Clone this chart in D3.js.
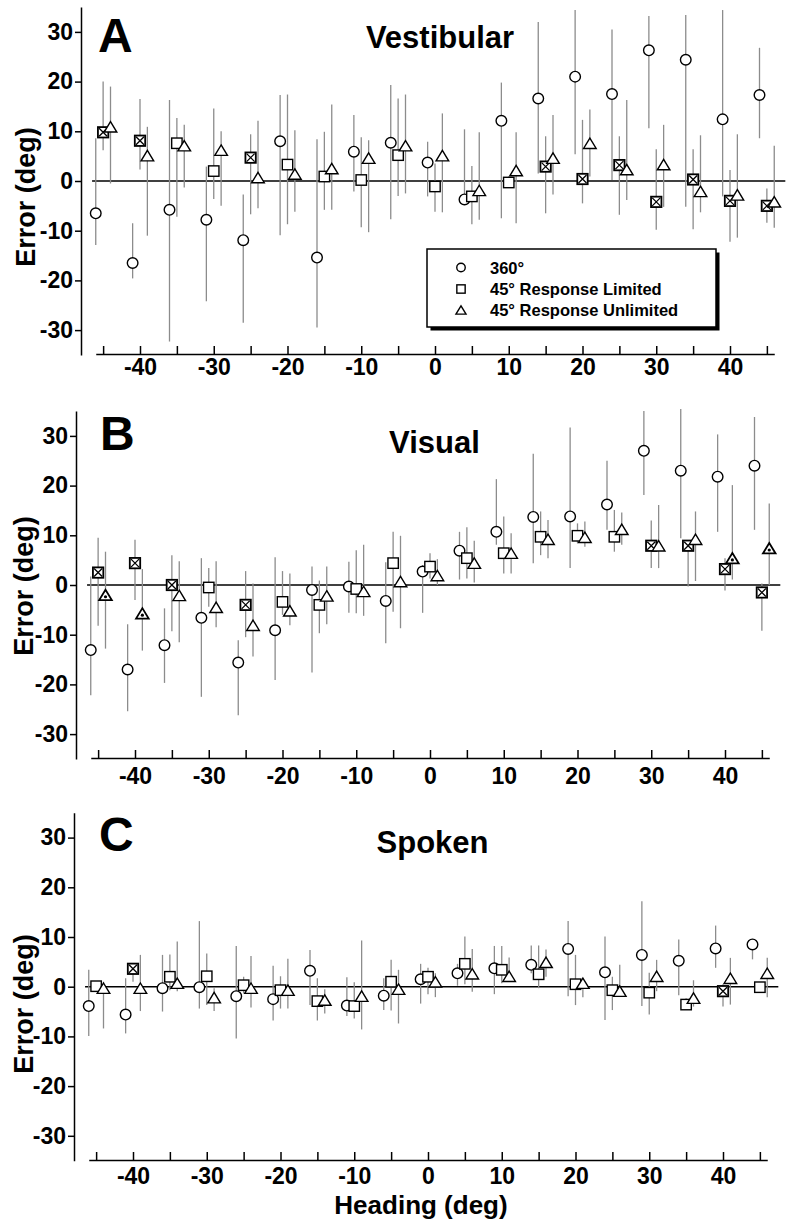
<!DOCTYPE html>
<html><head><meta charset="utf-8">
<script src="https://cdn.jsdelivr.net/npm/d3@7"></script>
<style>
body{margin:0;background:#fff}
text{font-family:"Liberation Sans",Arial,sans-serif;font-weight:bold;fill:#000}
</style>
</head><body>
<svg id="chart" width="793" height="1224"></svg>
<script>
// ---------- data ----------
const headings = [-45,-40,-35,-30,-25,-20,-15,-10,-5,0,5,10,15,20,25,30,35,40,45];
const xTickValues = [-45,-40,-35,-30,-25,-20,-15,-10,-5,0,5,10,15,20,25,30,35,40,45];
const xTickLabels = [-40,-30,-20,-10,0,10,20,30,40];
const yTickValues = [-30,-20,-10,0,10,20,30];
const seriesNames = ["360°","45° Response Limited","45° Response Unlimited"];
const panelTitles = ["Vestibular","Visual","Spoken"];
const panelLetters = ["A","B","C"];
const xAxisTitle = "Heading (deg)";
const yAxisTitle = "Error (deg)";

// each entry: [mean, low, high] per heading
const vestCircle = [[-6.5,-12.9,8.6],[-16.5,-19.6,-8.5],[-5.8,-32.3,16.3],[-7.8,-24.2,2.9],[-11.9,-28.5,-2.7],[8.0,-10.9,17.3],[-15.4,-29.5,8.4],[5.9,-2.1,13.3],[7.7,-7.7,19.3],[3.7,-3.1,7.9],[-3.7,-4.5,10.4],[12.1,-7.5,19.8],[16.6,1.5,32],[21,5.4,34.4],[17.5,0.2,30.5],[26.3,10.6,33.2],[24.4,-5.2,33.4],[12.4,-3.1,34.4],[17.3,8.6,26.8]];
const vestSquare = [[9.8,6.2,20],[8.1,2.3,16.5],[7.6,-7.2,12.7],[2.0,-3.6,14.6],[4.7,-6.7,9.4],[3.3,-8.7,17.4],[0.9,-5.8,9.9],[0.2,-9.3,8.8],[5.2,-3,16.6],[-1.1,-6.2,3.5],[-3.1,-8.7,3],[-0.3,-1.1,0.9],[2.9,-6.5,9],[0.4,-4.5,12.3],[3.2,-6.8,9],[-4.2,-9.8,6.4],[0.3,-9.7,6.4],[-4,-12.2,2.2],[-5,-8.4,-1.5]];
const vestTriangle = [[10.9,-0.5,19],[5.1,-11,10.9],[7.1,-1.3,11.3],[6.2,-5,10],[0.7,-5.5,12.1],[1.4,-6.2,10.2],[2.5,-5.8,15.4],[4.6,-10.3,8.2],[7.1,-2.5,17.4],[5.1,-6.3,13.6],[-1.9,-7.8,9.8],[2.1,-8.5,9.8],[4.6,-2.7,13.3],[7.6,0.9,14.4],[2.3,-3.8,16.3],[3.3,-5.2,11.3],[-2.1,-6.3,9.2],[-2.8,-11.4,9.4],[-4.2,-9.4,7.1]];
const vestCrossed = [-45,-40,-25,15,20,25,30,35,40,45];
const vestDotted = [];

const visCircle = [[-13.1,-22.2,1.7],[-17,-25.4,-7.9],[-12.1,-19.7,-4.7],[-6.6,-22.5,5.4],[-15.6,-26.2,-11.1],[-9.1,-19.1,5.6],[-1.0,-17.6,3.7],[-0.3,-5.6,4.7],[-3.2,-11.7,4.6],[2.7,-5.6,4],[6.9,1.1,10.7],[10.7,8.1,21.3],[13.7,4.4,26.4],[13.8,3.4,31.7],[16.2,11.1,25],[27,18.1,35],[23,9.4,35.4],[21.8,10.7,30.3],[24,11.1,33.8]];
const visSquare = [[2.5,-8.2,9.5],[4.4,-3,9.1],[0,-9.3,6.0],[-0.5,-4.4,3.4],[-4.0,-10.5,2.8],[-3.4,-6,2.8],[-4.0,-9.7,0.9],[-0.8,-5.7,7.0],[4.4,-5.4,10.7],[3.7,1.3,6.4],[5.4,1.3,11.6],[6.4,2.3,13.8],[9.7,6.0,14.8],[9.9,8.4,12.4],[9.7,6.7,15.1],[7.9,3.4,13],[7.9,-0.3,8.7],[3.2,-1.1,5.4],[-1.5,-9.2,0.3]];
const visTriangle = [[-2.0,-12.8,6.7],[-5.7,-13.2,3.2],[-2.1,-11.5,4.8],[-4.5,-8.5,4.8],[-8.1,-14.4,0.3],[-5.2,-8.1,2.3],[-2.2,-7.9,3.7],[-1.3,-6.2,8.1],[0.7,-8.7,9.9],[1.9,0,5.2],[4.4,0.5,8.9],[6.4,2.3,10.4],[9.2,5.4,13.1],[9.6,7.7,12.8],[11.2,8.1,14.6],[7.9,3.4,16.1],[9.2,0.8,14.8],[5.4,1.1,20.1],[7.4,0,16.4]];
const visCrossed = [-45,-40,-35,-25,30,35,40,45];
const visDotted = [-45,-40,40,45];

const spokCircle = [[-3.9,-9.9,3.4],[-5.6,-9.4,1.7],[-0.3,-5.0,6.4],[-0.1,-4.4,13.2],[-1.9,-10.4,8.2],[-2.5,-6.8,4.2],[3.2,-3.7,7.4],[-3.8,-5.9,1.9],[-1.8,-4.7,1.7],[1.5,-3.4,4.6],[2.7,0.2,4.6],[3.7,-1.5,8.2],[4.4,2.7,8.3],[7.6,-1.9,13.2],[2.9,-6.7,10.1],[6.4,-3.9,17.2],[5.2,-1.7,9.5],[7.7,3.8,12.3],[8.5,5.5,9.1]];
const spokSquare = [[0.1,-0.5,0.5],[3.6,1.0,4.7],[2.0,-0.7,6.5],[2.1,-3.7,6.7],[0.3,-1.3,2.0],[-0.7,-4.4,2.1],[-2.9,-6.8,1.7],[-3.9,-6.4,0.9],[1.0,-4.8,5.4],[2.0,-1.5,3.8],[4.6,0.5,10.1],[3.4,0.7,8.2],[2.5,-0.3,8.3],[0.5,-3.7,6.4],[-0.7,-4.7,2.0],[-1.2,-5.6,2.8],[-3.6,-4.4,-2.3],[-0.9,-4.0,0.5],[-0.1,-0.6,0.4]];
const spokTriangle = [[-0.3,-8.4,1.0],[-0.3,-4.9,6.4],[0.7,-0.9,9.1],[-2.2,-4.9,-0.3],[-0.3,-4.2,6.2],[-0.7,-4.4,5.6],[-2.7,-5.4,-0.5],[-1.9,-8.6,9.3],[-0.5,-7.4,3.4],[1.0,-2.1,2.7],[2.6,-1.0,7.6],[2.1,1.0,5.9],[4.9,2.0,7.5],[0.7,-2.1,1.7],[-0.9,-2.0,4.4],[2.1,-0.9,5.4],[-2.3,-4.0,1.3],[1.7,-3.6,5.8],[2.7,-2.1,5.8]];
const spokCrossed = [-40,40];
const spokDotted = [];

// ---------- layout ----------
const svg = d3.select("#chart");
const pxPerX = 7.375, pxPerY = 4.97;
const panels = [
  {x0:435, y0:181,   axY:354,  tickPad:4.5, titleY:48,  titleX:440,   letterX:98,  letterY:52,  ylabX:35, ylabY:197,
   data:[vestCircle,vestSquare,vestTriangle], crossed:vestCrossed, dotted:vestDotted, legend:true},
  {x0:430, y0:585,   axY:758,  tickPad:10,  titleY:453, titleX:434.5, letterX:100, letterY:450, ylabX:33, ylabY:586,
   data:[visCircle,visSquare,visTriangle], crossed:visCrossed, dotted:visDotted},
  {x0:428, y0:986.7, axY:1160, tickPad:8,   titleY:853, titleX:432.5, letterX:99,  letterY:851, ylabX:33, ylabY:1004,
   data:[spokCircle,spokSquare,spokTriangle], crossed:spokCrossed, dotted:spokDotted, xlabel:true}
];
const offsets = [-1, 0, 1];
const barColor = "#8c8c8c";

function drawMarker(g, type, cx, cy, opts) {
  const s = opts.size || 1;
  if (type === 0) {
    g.append("circle").attr("cx", cx).attr("cy", cy).attr("r", 5.3*s)
      .attr("fill", "#fff").attr("stroke", "#000").attr("stroke-width", 1.4);
  } else if (type === 1) {
    const h = 5.2*s;
    g.append("rect").attr("x", cx-h).attr("y", cy-h).attr("width", 2*h).attr("height", 2*h)
      .attr("fill", "#fff").attr("stroke", "#000").attr("stroke-width", opts.crossed ? 1.8 : 1.4);
    if (opts.crossed) {
      const k = h - 1.2;
      g.append("path").attr("d", `M${cx-k},${cy-k}L${cx+k},${cy+k}M${cx+k},${cy-k}L${cx-k},${cy+k}`)
        .attr("stroke", "#000").attr("stroke-width", 1.3).attr("fill", "none");
    }
  } else {
    const w = 6.3*s, hh = 5.2*s;
    g.append("path").attr("d", `M${cx},${cy-hh}L${cx+w},${cy+hh}L${cx-w},${cy+hh}Z`)
      .attr("fill", "#fff").attr("stroke", "#000").attr("stroke-width", opts.dotted ? 1.8 : 1.4)
      .attr("stroke-linejoin", "miter");
    if (opts.dotted) {
      g.append("circle").attr("cx", cx).attr("cy", cy+1.8).attr("r", 1.6).attr("fill", "#000");
    }
  }
}

panels.forEach((p, pi) => {
  const x = d3.scaleLinear().domain([-46, 46]).range([p.x0 - 46*pxPerX, p.x0 + 46*pxPerX]);
  const y = d3.scaleLinear().domain([-35, 35]).range([p.y0 + 35*pxPerY, p.y0 - 35*pxPerY]);
  const g = svg.append("g");

  // y axis
  const yAxisX = x(-48);
  const ya = g.append("g").attr("transform", `translate(${yAxisX},0)`)
    .call(d3.axisLeft(y).tickValues(yTickValues).tickSize(6).tickSizeOuter(0).tickPadding(2)
      .tickFormat(d => String(d)));
  ya.select(".domain").attr("stroke-width", 1.5);
  ya.selectAll(".tick line").attr("stroke-width", 1.5);
  ya.selectAll(".tick text").style("font-size", "23px").attr("fill", "#000");

  // x axis
  const xa = g.append("g").attr("transform", `translate(0,${p.axY})`)
    .call(d3.axisBottom(x).tickValues(xTickValues).tickSizeInner(-8).tickSizeOuter(0)
      .tickPadding(p.tickPad)
      .tickFormat(d => xTickLabels.includes(d) ? String(d) : ""));
  xa.select(".domain").attr("stroke-width", 1.5);
  xa.selectAll(".tick line").attr("stroke-width", 1.5);
  xa.selectAll(".tick text").style("font-size", "23px").attr("fill", "#000");

  // zero line
  g.append("line").attr("x1", x(-46.5)).attr("x2", x(47.5)).attr("y1", y(0)).attr("y2", y(0))
    .attr("stroke", "#000").attr("stroke-width", 1.5);

  // error bars
  p.data.forEach((ser, si) => {
    ser.forEach((v, i) => {
      const hx = headings[i] + offsets[si];
      g.append("line").attr("x1", x(hx)).attr("x2", x(hx)).attr("y1", y(v[1])).attr("y2", y(v[2]))
        .attr("stroke", barColor).attr("stroke-width", 1.3);
    });
  });
  // markers
  p.data.forEach((ser, si) => {
    ser.forEach((v, i) => {
      const hx = headings[i] + offsets[si];
      drawMarker(g, si, x(hx), y(v[0]), {
        crossed: si === 1 && p.crossed.includes(headings[i]),
        dotted: si === 2 && p.dotted.includes(headings[i])
      });
    });
  });

  // titles
  g.append("text").attr("x", p.titleX).attr("y", p.titleY).attr("text-anchor", "middle")
    .style("font-size", "31px").text(panelTitles[pi]);
  g.append("text").attr("x", p.letterX).attr("y", p.letterY)
    .style("font-size", "48px").text(panelLetters[pi]);
  g.append("text").attr("transform", `translate(${p.ylabX},${p.ylabY}) rotate(-90)`)
    .attr("text-anchor", "middle").style("font-size", "27px").text(yAxisTitle);

  if (p.xlabel) {
    g.append("text").attr("x", 421).attr("y", 1213.5).attr("text-anchor", "middle")
      .style("font-size", "26px").text(xAxisTitle);
  }

  if (p.legend) {
    const L = g.append("g");
    L.append("rect").attr("x", 430.5).attr("y", 252.5).attr("width", 289).attr("height", 78).attr("fill", "#000");
    L.append("rect").attr("x", 427).attr("y", 249).attr("width", 289).attr("height", 78)
      .attr("fill", "#fff").attr("stroke", "#000").attr("stroke-width", 1.5);
    const rows = [267.5, 289, 310];
    const bases = [274, 295, 316];
    seriesNames.forEach((nm, si) => {
      drawMarker(L, si, 461, rows[si], {size: 0.8});
      L.append("text").attr("x", 490).attr("y", bases[si]).style("font-size", "16.5px").text(nm);
    });
  }
});
</script>
</body></html>
